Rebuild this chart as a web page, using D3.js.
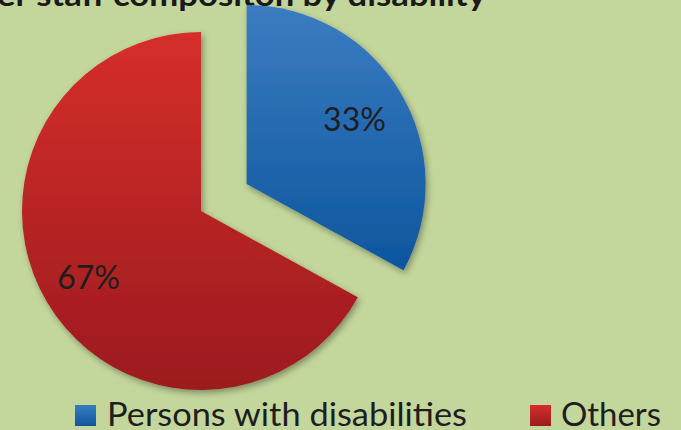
<!DOCTYPE html>
<html>
<head>
<meta charset="utf-8">
<script src="https://cdn.jsdelivr.net/npm/d3@7"></script>
<style>
  html, body { margin: 0; padding: 0; background: #c3d69b; }
  svg { display: block; }
</style>
</head>
<body>
<svg id="chart" width="681" height="430"></svg>
<script>
const categories = ["Persons with disabilities", "Others"];
const values = [33, 67];
const valueLabels = ["33%", "67%"];
const titleText = "er staff compositon by disability";

const W = 681, H = 430;
const svg = d3.select("#chart");
svg.append("rect").attr("width", W).attr("height", H).attr("fill", "#c3d69b");

const defs = svg.append("defs");
const grads = [
  { id: "gBlue", top: "#3b7cc1", bottom: "#0d569e" },
  { id: "gRed", top: "#d62e2a", bottom: "#9b1a1f" }
];
grads.forEach(g => {
  const lg = defs.append("linearGradient").attr("id", g.id)
    .attr("x1", 0).attr("y1", 0).attr("x2", 0).attr("y2", 1);
  lg.append("stop").attr("offset", "0%").attr("stop-color", g.top);
  lg.append("stop").attr("offset", "100%").attr("stop-color", g.bottom);
});
const f = defs.append("filter").attr("id", "shadow")
  .attr("x", "-20%").attr("y", "-20%").attr("width", "140%").attr("height", "140%");
f.append("feDropShadow").attr("dx", 2).attr("dy", 3).attr("stdDeviation", 3)
  .attr("flood-color", "#000").attr("flood-opacity", 0.35);

const color = d3.scaleOrdinal().domain(categories).range(["url(#gBlue)", "url(#gRed)"]);

// Title (clipped at top, as in the reference)
svg.append("text")
  .attr("x", -3).attr("y", 6)
  .attr("textLength", 489).attr("lengthAdjust", "spacingAndGlyphs")
  .attr("font-family", "Lato, 'Open Sans', sans-serif")
  .attr("font-weight", "bold").attr("font-size", 30)
  .attr("fill", "#1a1a1a")
  .text(titleText);

const R = 179;
const cx = 201, cy = 211;
const explode = 53;

const pie = d3.pie().sort(null).value(d => d);
const arcs = pie(values);
const arc = d3.arc().innerRadius(0).outerRadius(R);
const labelRadius = [R * 0.7, R * 0.73];

const g = svg.append("g").attr("transform", `translate(${cx},${cy})`);

const slices = g.selectAll("g.slice").data(arcs).enter().append("g")
  .attr("class", "slice")
  .attr("transform", (d, i) => {
    if (i !== 0) return null;
    const a = (d.startAngle + d.endAngle) / 2;
    return `translate(${explode * Math.sin(a)},${-explode * Math.cos(a)})`;
  });

slices.append("path")
  .attr("d", arc)
  .attr("fill", (d, i) => color(categories[i]))
  .attr("filter", "url(#shadow)");

slices.append("text")
  .attr("transform", (d, i) => {
    const lr = labelRadius[i];
    const c = d3.arc().innerRadius(lr).outerRadius(lr).centroid(d);
    return `translate(${c})`;
  })
  .attr("text-anchor", "middle")
  .attr("dy", "0.35em")
  .attr("font-family", "Lato, 'Open Sans', sans-serif")
  .attr("font-size", 32)
  .attr("fill", "#1e1e1e")
  .text((d, i) => valueLabels[i]);

// Legend
const legendItems = [
  { x: 75, textX: 107, textLen: 360 },
  { x: 530, textX: 561, textLen: 100 }
];
const lg = svg.append("g");
categories.forEach((c, i) => {
  const it = legendItems[i];
  lg.append("rect").attr("x", it.x).attr("y", 405).attr("width", 21).attr("height", 21)
    .attr("fill", color(c));
  lg.append("text").attr("x", it.textX).attr("y", 426)
    .attr("textLength", it.textLen).attr("lengthAdjust", "spacingAndGlyphs")
    .attr("font-family", "Lato, 'Open Sans', sans-serif")
    .attr("font-size", 32)
    .attr("fill", "#1e1e1e")
    .text(c);
});
</script>
</body>
</html>
